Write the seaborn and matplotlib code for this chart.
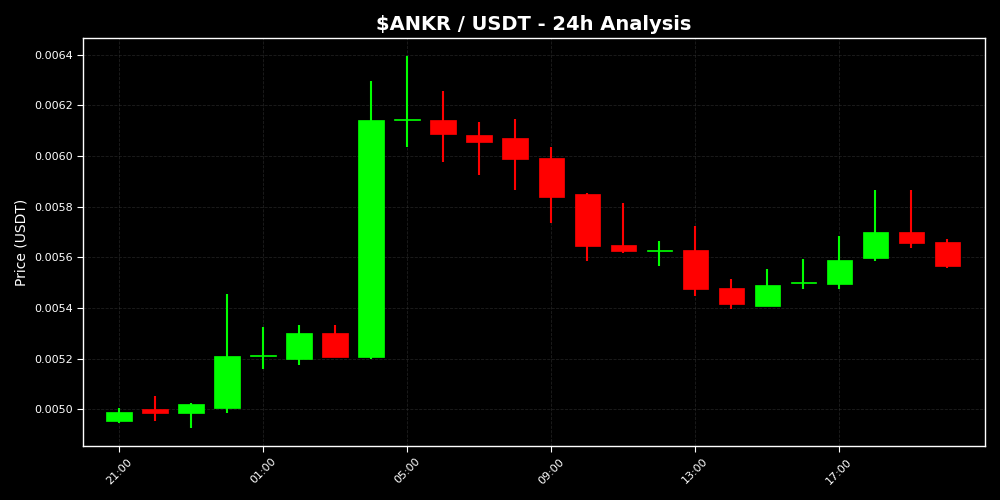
import matplotlib
matplotlib.use("Agg")
import matplotlib.pyplot as plt
import seaborn as sns
import numpy as np
import pandas as pd

hours = ["21:00", "22:00", "23:00", "00:00", "01:00", "02:00", "03:00", "04:00",
         "05:00", "06:00", "07:00", "08:00", "09:00", "10:00", "11:00", "12:00",
         "13:00", "14:00", "15:00", "16:00", "17:00", "18:00", "19:00", "20:00"]
opens = [0.004955, 0.005001, 0.004987, 0.005006, 0.005209, 0.005197, 0.005302, 0.005207,
         0.006142, 0.006142, 0.006083, 0.006072, 0.005993, 0.005850, 0.005650, 0.005623,
         0.005629, 0.005480, 0.005409, 0.005497, 0.005496, 0.005599, 0.005701, 0.005662]
closes = [0.004988, 0.004987, 0.005022, 0.005211, 0.005211, 0.005302, 0.005207, 0.006142,
          0.006145, 0.006088, 0.006057, 0.005989, 0.005839, 0.005646, 0.005625, 0.005627,
          0.005476, 0.005416, 0.005492, 0.005500, 0.005590, 0.005701, 0.005657, 0.005566]
highs = [0.005004, 0.005053, 0.005025, 0.005455, 0.005326, 0.005334, 0.005334, 0.006296,
         0.006395, 0.006257, 0.006134, 0.006146, 0.006036, 0.005853, 0.005815, 0.005665,
         0.005724, 0.005514, 0.005554, 0.005593, 0.005683, 0.005866, 0.005866, 0.005672]
lows = [0.004947, 0.004955, 0.004927, 0.004987, 0.005158, 0.005176, 0.005205, 0.005197,
        0.006037, 0.005978, 0.005926, 0.005867, 0.005737, 0.005587, 0.005618, 0.005567,
        0.005449, 0.005397, 0.005407, 0.005476, 0.005476, 0.005587, 0.005637, 0.005558]
tick_labels = ["21:00", "01:00", "05:00", "09:00", "13:00", "17:00"]

df = pd.DataFrame({"hour": hours, "open": opens, "close": closes,
                   "high": highs, "low": lows})
df["x"] = np.arange(len(df))
df["up"] = df["close"] >= df["open"]

sns.set_style("dark")
plt.rcParams["font.family"] = ["DejaVu Sans"]

fig = plt.figure(figsize=(10, 5), dpi=100, facecolor="black")
ax = fig.add_axes([0.083, 0.108, 0.902, 0.816])
ax.set_facecolor("black")

green = "#00ff00"
red = "#ff0000"
colors = np.where(df["up"], green, red)

ax.vlines(df["x"], df["low"], df["high"], colors=colors, linewidth=1.5, zorder=2)
bottoms = np.minimum(df["open"], df["close"])
heights = np.maximum(np.abs(df["close"] - df["open"]), 0.000006)
ax.bar(df["x"], heights, bottom=bottoms, width=0.7, color=colors,
       edgecolor=colors, linewidth=0.5, zorder=3)

ax.set_xlim(-1, 24.05)
ax.set_ylim(0.004855, 0.006466)
tick_pos = [hours.index(t) for t in tick_labels]
ax.set_xticks(tick_pos)
ax.set_xticklabels(tick_labels, rotation=45, fontsize=8, color="white")
ax.set_yticks([0.0050, 0.0052, 0.0054, 0.0056, 0.0058, 0.0060, 0.0062, 0.0064])
ax.set_yticklabels([f"{v:.4f}" for v in ax.get_yticks()], fontsize=8, color="white")
ax.tick_params(axis="both", colors="white", length=4, width=0.8, bottom=True, left=True)

ax.grid(True, color="#333333", linestyle="--", linewidth=0.6, alpha=0.6)
ax.set_axisbelow(True)
for s in ax.spines.values():
    s.set_visible(True)
    s.set_color("white")
    s.set_linewidth(1.0)

ax.set_title(r"\$ANKR / USDT - 24h Analysis", color="white", fontsize=14,
             fontweight="bold", pad=6)
ax.set_ylabel("Price (USDT)", color="white", fontsize=10)

fig.savefig("out.png", dpi=100, facecolor="black")
